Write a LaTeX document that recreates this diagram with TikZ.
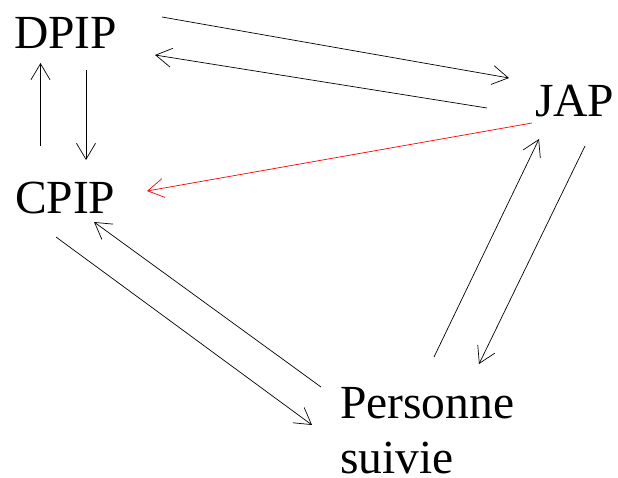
\documentclass[tikz,border=0pt]{standalone}
\usepackage{fontspec}
\setmainfont{Liberation Serif}
\usetikzlibrary{arrows.meta,calc}
\begin{document}
\begin{tikzpicture}[x=1pt,y=-1pt,
  lbl/.style={inner sep=0pt,outer sep=0pt,anchor=base west,font=\fontsize{47.5}{55}\selectfont},
  arr/.style={line width=0.7pt,-{Straight Barb[length=16pt,width=19pt,line width=0.7pt]}},
  redarr/.style={arr,red}]
\useasboundingbox (0,0) rectangle (618,477);
\node[lbl] (dpip) at (14,48) {DPIP};
\node[lbl] (jap) at (535,116) {JAP};
\node[lbl] (cpip) at (15,213) {CPIP};
% two-line label: its base anchor sits on the last line
\node[lbl,align=left] (pers) at (340,473) {Personne\\suivie};
% DPIP <-> JAP
\draw[arr] ($(dpip.base west)+(148,-31)$) -- ($(jap.base west)+(-26,-38)$);
\draw[arr] ($(jap.base west)+(-48,-8)$) -- ($(dpip.base west)+(141,7)$);
% JAP -> CPIP
\draw[redarr] ($(jap.base west)+(-3,7)$) -- ($(cpip.base west)+(132,-22)$);
% CPIP <-> DPIP
\draw[arr] ($(cpip.base west)+(25.5,-67)$) -- ($(dpip.base west)+(26.5,15)$);
\draw[arr] ($(dpip.base west)+(72,22)$) -- ($(cpip.base west)+(71,-53)$);
% CPIP <-> Personne suivie
\draw[arr] ($(cpip.base west)+(41,24)$) -- ($(pers.base west)+(-28,-48)$);
\draw[arr] ($(pers.base west)+(-19,-86)$) -- ($(cpip.base west)+(79,9)$);
% Personne suivie <-> JAP
\draw[arr] ($(pers.base west)+(94,-116)$) -- ($(jap.base west)+(4,23)$);
\draw[arr] ($(jap.base west)+(50,30)$) -- ($(pers.base west)+(139,-109)$);
\end{tikzpicture}
\end{document}
